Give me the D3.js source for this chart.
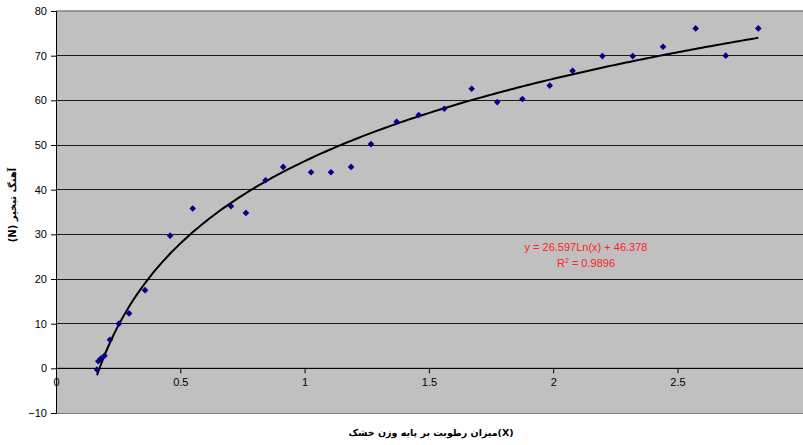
<!DOCTYPE html>
<html><head><meta charset="utf-8">
<script src="https://cdn.jsdelivr.net/npm/d3@7"></script>
<style>body{margin:0;background:#fff}svg{display:block;font-family:"Liberation Sans",Arial,sans-serif}</style>
</head><body><svg id="c" width="803" height="445"></svg>
<script>
const xVals = [0.165,0.17,0.18,0.195,0.217,0.253,0.294,0.358,0.459,0.55,0.704,0.764,0.843,0.914,1.026,1.106,1.187,1.267,1.37,1.459,1.562,1.672,1.775,1.876,1.986,2.078,2.198,2.32,2.442,2.573,2.694,2.825];
const yVals = [-0.3,1.6,2.2,2.8,6.4,10.0,12.3,17.5,29.7,35.8,36.3,34.8,42.1,45.1,43.9,43.9,45.1,50.2,55.2,56.7,58.1,62.6,59.6,60.3,63.3,66.6,69.9,69.9,72.0,76.1,70.0,76.1];
const xTicks = [0,0.5,1,1.5,2,2.5];
const yTicks = [-10,0,10,20,30,40,50,60,70,80];
const trendA = 26.597, trendB = 46.378;
const eqLabel = "y = 26.597Ln(x) + 46.378";
const r2Label = "0.9896";
const xTitle = "میزان رطوبت بر پایه وزن خشک(X)";
const yTitle = "(N) آهنگ تبخیر";

const svg = d3.select("#c");
const L = 56, R = 802, T = 11, B = 413;
const x = d3.scaleLinear().domain([0,3]).range([L, L + 3*248.6]);
const y = d3.scaleLinear().domain([-10,80]).range([B, T]);

svg.append("rect").attr("x",L).attr("y",T).attr("width",R-L+2).attr("height",B-T).attr("fill","#c0c0c0");
// gridlines
svg.append("g").selectAll("line").data(yTicks.filter(d=>d>-10 && d<80)).join("line")
  .attr("x1",L).attr("x2",803).attr("y1",d=>y(d)).attr("y2",d=>y(d))
  .attr("stroke","#1a1a1a").attr("stroke-width",1).attr("shape-rendering","crispEdges");
// top border
svg.append("line").attr("x1",L).attr("x2",803).attr("y1",T).attr("y2",T).attr("stroke","#808080").attr("stroke-width",1.5);
// bottom border
svg.append("line").attr("x1",L).attr("x2",803).attr("y1",B).attr("y2",B).attr("stroke","#808080").attr("stroke-width",1).attr("shape-rendering","crispEdges");

// y axis
const ya = d3.axisLeft(y).tickValues(yTicks).tickSize(5).tickPadding(4).tickFormat(d3.format("d"));
const yg = svg.append("g").attr("transform",`translate(${L},0)`).call(ya);
yg.select(".domain").attr("stroke","#000");
yg.selectAll("text").attr("font-size",11).attr("fill","#000").attr("font-family","Liberation Sans, Arial, sans-serif");
yg.selectAll("line").attr("stroke","#000");

// x axis at y=0
const xa = d3.axisBottom(x).tickValues(xTicks).tickSize(5).tickPadding(5).tickFormat(d=>d);
const xg = svg.append("g").attr("transform",`translate(0,${y(0)})`).call(xa);
xg.select(".domain").remove();
xg.append("line").attr("x1",L).attr("x2",803).attr("y1",0).attr("y2",0).attr("stroke","#000");
xg.selectAll("text").attr("font-size",11).attr("fill","#000").attr("font-family","Liberation Sans, Arial, sans-serif");
xg.selectAll(".tick line").attr("stroke","#000");

// trendline
const xmin = d3.min(xVals), xmax = d3.max(xVals);
const tpts = d3.range(0,201).map(i => { const xv = xmin + (xmax-xmin)*i/200; return [xv, trendA*Math.log(xv)+trendB]; });
svg.append("path").attr("d", d3.line().x(d=>x(d[0])).y(d=>y(d[1]))(tpts))
  .attr("fill","none").attr("stroke","#000").attr("stroke-width",2);

// points
const pts = xVals.map((v,i)=>[v,yVals[i]]);
svg.append("g").selectAll("path").data(pts).join("path")
  .attr("transform",d=>`translate(${x(d[0])},${y(d[1])})`)
  .attr("d","M0,-3.3L3.3,0L0,3.3L-3.3,0Z").attr("fill","#000080");

// equation
svg.append("text").attr("x",586).attr("y",251).attr("text-anchor","middle").attr("font-size",11).attr("fill","#ff2020").text(eqLabel);
const r2 = svg.append("text").attr("x",586).attr("y",267).attr("text-anchor","middle").attr("font-size",11).attr("fill","#ff2020");
r2.append("tspan").text("R");
r2.append("tspan").attr("dy",-4).attr("font-size",7).text("2");
r2.append("tspan").attr("dy",4).text(" = " + r2Label);

// titles
svg.append("text").attr("x",431).attr("y",436).attr("text-anchor","middle").attr("font-size",9.5).attr("font-weight","bold").attr("font-family","DejaVu Sans, sans-serif").text(xTitle);
svg.append("text").attr("transform","translate(16,205) rotate(-90)").attr("text-anchor","middle").attr("font-size",10).attr("font-weight","bold").attr("font-family","DejaVu Sans, sans-serif").text(yTitle);
</script></body></html>
